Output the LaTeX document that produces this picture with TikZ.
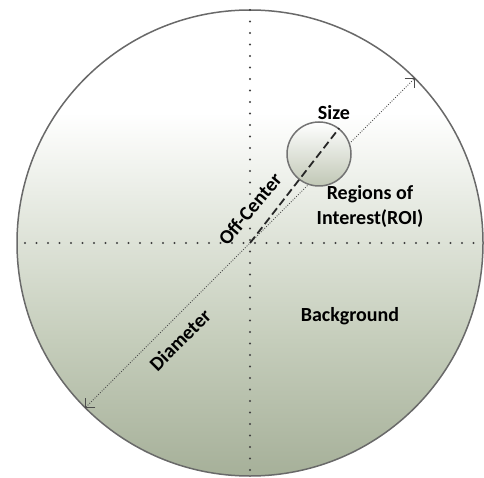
\documentclass[tikz,border=0pt]{standalone}
\usepackage{fontspec}
\setmainfont{Carlito}
\usetikzlibrary{arrows.meta}
\usepackage{xcolor}

\definecolor{discdark}{RGB}{166,176,153}
\definecolor{discmid}{RGB}{198,206,188}
\definecolor{disclight}{RGB}{228,232,223}
\definecolor{rimgray}{RGB}{105,105,105}
\definecolor{roibottom}{RGB}{192,199,181}

\pgfdeclareverticalshading{discshade}{100bp}{color(0bp)=(discdark); color(25bp)=(discdark);
  color(40bp)=(discmid); color(53bp)=(disclight); color(64bp)=(white); color(100bp)=(white)}

\tikzset{
  label text/.style={font=\fontsize{20}{25}\selectfont\bfseries, text=black, inner sep=1pt},
  axis dots/.style={line width=2.2pt, black!75, line cap=round, dash pattern=on 0pt off 11.5pt},
  fine dots/.style={line width=0.9pt, black!70, dash pattern=on 0.9pt off 1.6pt}
}

\begin{document}
\begin{tikzpicture}[x=1pt, y=1pt, line join=round]
  \useasboundingbox (0,0) rectangle (484,477);
  % ========================================================
  % 0. THE DISC (phantom background)
  % ========================================================
  \node[circle, minimum size=466pt, inner sep=0pt] (disc) at (250,234) {};
  \shade[shading=discshade] (disc.center) circle (233);
  \draw[line width=1.5pt, rimgray] (disc.center) circle (233);

  % ========================================================
  % 1. DOTTED CROSS THROUGH THE CENTRE
  % ========================================================
  \coordinate (ctr) at (disc.center);
  \coordinate (hl) at (25,234);
  \coordinate (hr) at (484,234);
  \coordinate (vt) at (250,467);
  \coordinate (vb) at (250,0);
  \draw[axis dots] (hl) -- (hr);
  \draw[axis dots] (vt) -- (vb);

  % ========================================================
  % 2. DIAMETER ARROW
  % ========================================================
  \draw[fine dots, {Straight Barb[length=7pt,width=14pt,line width=0.9pt]}-{Straight Barb[length=7pt,width=14pt,line width=0.9pt]}]
    (disc.225) -- (disc.45);

  % ========================================================
  % 3. REGION OF INTEREST AND OFF-CENTER LINE
  % ========================================================
  \node[circle, minimum size=64pt, inner sep=0pt, draw=black!55, line width=1.5pt,
        top color=white, bottom color=roibottom] (roi) at (319,323) {};
  \draw[line width=1.8pt, black!85, dash pattern=on 8pt off 4pt] (ctr) -- (roi.52.5);

  % ========================================================
  % 4. LABELS
  % ========================================================
  \node[label text] (size) at (334,364) {Size};
  \node[label text, align=center] (roitext) at (370,271) {Regions of\\Interest(ROI)};
  \node[label text] (bg) at (350,161) {Background};
  \node[label text, rotate=50] (offc) at (250,268) {Off-Center};
  \node[label text, rotate=45] (diam) at (180,137) {Diameter};

\end{tikzpicture}
\end{document}
